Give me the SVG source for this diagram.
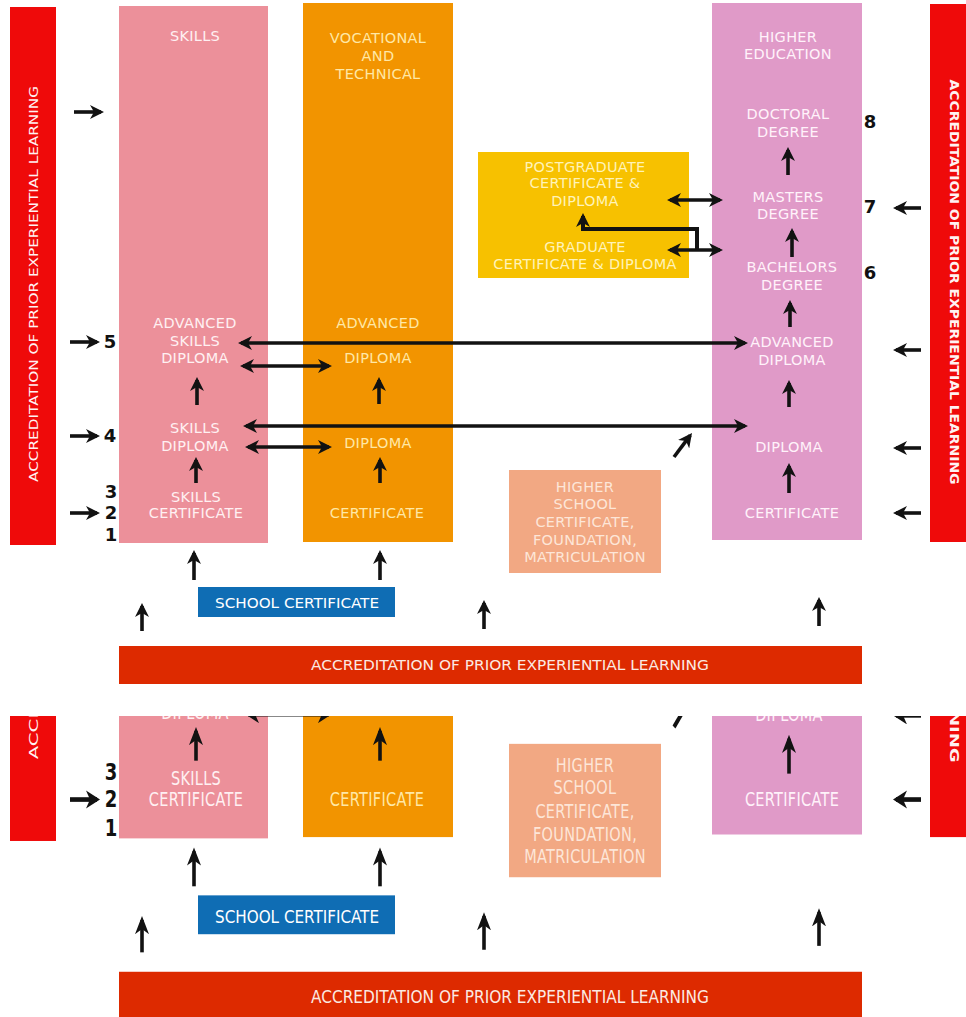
<svg xmlns="http://www.w3.org/2000/svg" width="966" height="1017" viewBox="0 0 966 1017">
<style>
.t{font-family:"DejaVu Sans","Verdana",sans-serif;font-size:14.5px;text-anchor:middle;letter-spacing:0.3px}
.tp{fill:#fff0f2}
.to{fill:#ffe8a6}
.tv{fill:#fff2fa}
.tg{fill:#fff3b8}
.tc{fill:#fde6d8}
.num{font-family:"DejaVu Sans",sans-serif;font-size:18px;font-weight:bold;fill:#111111;text-anchor:middle}
.ar{stroke:#121212;stroke-width:3.6;fill:none}
.side{font-family:"DejaVu Sans",sans-serif;font-size:13px;fill:#fff2f2;text-anchor:middle}
.bar{font-family:"DejaVu Sans Condensed","DejaVu Sans",sans-serif;font-size:13.5px;fill:#fbe9e2;text-anchor:middle}
</style>
<defs>
<marker id="ah" viewBox="0 0 14 14" refX="11" refY="7" markerWidth="14" markerHeight="14" markerUnits="userSpaceOnUse" orient="auto-start-reverse"><path d="M0,0 L14,7 L0,14 L4,7 z" fill="#121212"/></marker>
<clipPath id="clipB" clipPathUnits="userSpaceOnUse"><rect x="0" y="716" width="966" height="301"/></clipPath>
</defs>
<rect width="966" height="1017" fill="#ffffff"/>

<g id="top">
<g id="apl-left"><rect x="10" y="7" width="46" height="538" fill="#ef0a0a"/><text class="side" transform="translate(33,284) rotate(-90)" x="0" y="5" textLength="396" lengthAdjust="spacingAndGlyphs">ACCREDITATION OF PRIOR EXPERIENTIAL LEARNING</text></g>
<g id="apl-right"><rect x="930" y="4" width="36" height="538" fill="#ef0a0a"/><text class="side" font-weight="bold" transform="translate(955,282) rotate(90)" x="0" y="5" textLength="405" lengthAdjust="spacingAndGlyphs">ACCREDITATION OF PRIOR EXPERIENTIAL LEARNING</text></g>

<g id="skills"><rect x="119" y="6" width="149" height="537" fill="#ec909a"/>
<text class="t tp" x="195" y="41">SKILLS</text>
<text class="t tp" x="195" y="328">ADVANCED</text><text class="t tp" x="195" y="346">SKILLS</text><text class="t tp" x="195" y="363">DIPLOMA</text>
<text class="t tp" x="195" y="433">SKILLS</text><text class="t tp" x="195" y="451">DIPLOMA</text>
<text class="t tp" x="196" y="502">SKILLS</text><text class="t tp" x="196" y="518">CERTIFICATE</text></g>

<g id="vet"><rect x="303" y="3" width="150" height="539" fill="#f29400"/>
<text class="t to" x="378" y="43">VOCATIONAL</text><text class="t to" x="378" y="61">AND</text><text class="t to" x="378" y="79">TECHNICAL</text>
<text class="t to" x="378" y="328">ADVANCED</text><text class="t to" x="378" y="363">DIPLOMA</text>
<text class="t to" x="378" y="448">DIPLOMA</text>
<text class="t to" x="377" y="518">CERTIFICATE</text></g>

<g id="he"><rect x="712" y="3" width="150" height="537" fill="#e09ac8"/>
<text class="t tv" x="788" y="42">HIGHER</text><text class="t tv" x="788" y="59">EDUCATION</text>
<text class="t tv" x="788" y="119">DOCTORAL</text><text class="t tv" x="788" y="137">DEGREE</text>
<text class="t tv" x="788" y="202">MASTERS</text><text class="t tv" x="788" y="219">DEGREE</text>
<text class="t tv" x="792" y="272">BACHELORS</text><text class="t tv" x="792" y="290">DEGREE</text>
<text class="t tv" x="792" y="347">ADVANCED</text><text class="t tv" x="792" y="365">DIPLOMA</text>
<text class="t tv" x="789" y="452">DIPLOMA</text>
<text class="t tv" x="792" y="518">CERTIFICATE</text></g>

<g id="grad"><rect x="478" y="152" width="211" height="126" fill="#f7c100"/>
<text class="t tg" x="585" y="172">POSTGRADUATE</text><text class="t tg" x="585" y="188">CERTIFICATE &amp;</text><text class="t tg" x="585" y="206">DIPLOMA</text>
<text class="t tg" x="585" y="252">GRADUATE</text><text class="t tg" x="585" y="269">CERTIFICATE &amp; DIPLOMA</text></g>

<g id="hsc"><rect x="509" y="470" width="152" height="103" fill="#f2a883"/>
<text class="t tc" x="585" y="492">HIGHER</text><text class="t tc" x="585" y="509">SCHOOL</text><text class="t tc" x="585" y="527">CERTIFICATE,</text><text class="t tc" x="585" y="545">FOUNDATION,</text><text class="t tc" x="585" y="562">MATRICULATION</text></g>

<g id="school"><rect x="198" y="587" width="197" height="30" fill="#0f6db4"/><text class="bar" x="297" y="608" textLength="164" lengthAdjust="spacingAndGlyphs" style="fill:#ffffff">SCHOOL CERTIFICATE</text></g>

<g id="apl-bottom"><rect x="119" y="646" width="743" height="38" fill="#dd2a00"/><text class="bar" x="510" y="670" textLength="398" lengthAdjust="spacingAndGlyphs">ACCREDITATION OF PRIOR EXPERIENTIAL LEARNING</text></g>

<g id="levels">
<text class="num" x="870" y="128">8</text><text class="num" x="870" y="213">7</text><text class="num" x="870" y="279">6</text>
<text class="num" x="110" y="348">5</text><text class="num" x="110" y="442">4</text>
<text class="num" x="111" y="498">3</text><text class="num" x="111" y="519">2</text><text class="num" x="111" y="541">1</text>
</g>

<g id="connectors" class="ar" marker-end="url(#ah)">
<line x1="74" y1="112" x2="101" y2="112"/>
<line x1="70" y1="342" x2="97" y2="342"/>
<line x1="70" y1="436" x2="97" y2="436"/>
<line x1="70" y1="513" x2="97" y2="513"/>
<line x1="921" y1="208" x2="896" y2="208"/>
<line x1="921" y1="350" x2="896" y2="350"/>
<line x1="921" y1="448" x2="896" y2="448"/>
<line x1="921" y1="513" x2="896" y2="513"/>
<line x1="788" y1="175" x2="788" y2="150"/>
<line x1="792" y1="257" x2="792" y2="231"/>
<line x1="790" y1="327" x2="790" y2="303"/>
<line x1="789" y1="407" x2="789" y2="383"/>
<line x1="789" y1="493" x2="789" y2="466"/>
<line x1="197" y1="405" x2="197" y2="380"/>
<line x1="196" y1="483" x2="196" y2="460"/>
<line x1="379" y1="404" x2="379" y2="380"/>
<line x1="380" y1="483" x2="380" y2="460"/>
<line x1="194" y1="580" x2="194" y2="553"/>
<line x1="380" y1="580" x2="380" y2="553"/>
<line x1="142" y1="631" x2="142" y2="606"/>
<line x1="484" y1="629" x2="484" y2="603"/>
<line x1="819" y1="626" x2="819" y2="600"/>
<line x1="674" y1="457" x2="690.2" y2="435.4"/>
<line x1="241" y1="343" x2="745" y2="343" marker-start="url(#ah)"/>
<line x1="243" y1="366" x2="329" y2="366" marker-start="url(#ah)"/>
<line x1="246" y1="426" x2="745" y2="426" marker-start="url(#ah)"/>
<line x1="248" y1="447" x2="329" y2="447" marker-start="url(#ah)"/>
<line x1="670" y1="200" x2="720" y2="200" marker-start="url(#ah)"/>
<line x1="670" y1="250" x2="720" y2="250" marker-start="url(#ah)"/>
<path d="M697,250 V229 H583 V216" stroke-width="4"/>
</g>
</g>

<g id="bottom-detail" clip-path="url(#clipB)">
<g transform="translate(0,135.2) scale(1,1.295)">
<g id="b-apl-left"><rect x="10" y="7" width="46" height="538" fill="#ef0a0a"/><text class="side" transform="translate(33,284) rotate(-90)" x="0" y="5" textLength="396" lengthAdjust="spacingAndGlyphs">ACCREDITATION OF PRIOR EXPERIENTIAL LEARNING</text></g>
<g id="b-apl-right"><rect x="930" y="4" width="36" height="538" fill="#ef0a0a"/><text class="side" font-weight="bold" transform="translate(955,282) rotate(90)" x="0" y="5" textLength="405" lengthAdjust="spacingAndGlyphs">ACCREDITATION OF PRIOR EXPERIENTIAL LEARNING</text></g>
<g id="b-skills"><rect x="119" y="6" width="149" height="537" fill="#ec909a"/>
<text class="t tp" x="195" y="451">DIPLOMA</text>
<text class="t tp" x="196" y="502">SKILLS</text><text class="t tp" x="196" y="518">CERTIFICATE</text></g>
<g id="b-vet"><rect x="303" y="3" width="150" height="539" fill="#f29400"/>
<text class="t to" x="378" y="448">DIPLOMA</text>
<text class="t to" x="377" y="518">CERTIFICATE</text></g>
<g id="b-he"><rect x="712" y="3" width="150" height="537" fill="#e09ac8"/>
<text class="t tv" x="789" y="452">DIPLOMA</text>
<text class="t tv" x="792" y="518">CERTIFICATE</text></g>
<g id="b-hsc"><rect x="509" y="470" width="152" height="103" fill="#f2a883"/>
<text class="t tc" x="585" y="492">HIGHER</text><text class="t tc" x="585" y="509">SCHOOL</text><text class="t tc" x="585" y="527">CERTIFICATE,</text><text class="t tc" x="585" y="545">FOUNDATION,</text><text class="t tc" x="585" y="562">MATRICULATION</text></g>
<g id="b-school"><rect x="198" y="587" width="197" height="30" fill="#0f6db4"/><text class="bar" x="297" y="608" textLength="164" lengthAdjust="spacingAndGlyphs" style="fill:#ffffff">SCHOOL CERTIFICATE</text></g>
<g id="b-apl-bottom"><rect x="119" y="646" width="743" height="38" fill="#dd2a00"/><text class="bar" x="510" y="670" textLength="398" lengthAdjust="spacingAndGlyphs">ACCREDITATION OF PRIOR EXPERIENTIAL LEARNING</text></g>
<g id="b-levels"><text class="num" x="111" y="498">3</text><text class="num" x="111" y="519">2</text><text class="num" x="111" y="541">1</text></g>
<g id="b-connectors" class="ar" marker-end="url(#ah)">
<line x1="70" y1="513" x2="97" y2="513"/>
<line x1="921" y1="448" x2="896" y2="448"/>
<line x1="921" y1="513" x2="896" y2="513"/>
<line x1="789" y1="493" x2="789" y2="466"/>
<line x1="196" y1="483" x2="196" y2="460"/>
<line x1="380" y1="483" x2="380" y2="460"/>
<line x1="194" y1="580" x2="194" y2="553"/>
<line x1="380" y1="580" x2="380" y2="553"/>
<line x1="142" y1="631" x2="142" y2="606"/>
<line x1="484" y1="629" x2="484" y2="603"/>
<line x1="819" y1="626" x2="819" y2="600"/>
<line x1="674" y1="457" x2="690.2" y2="435.4"/>
<line x1="248" y1="447" x2="329" y2="447" marker-start="url(#ah)"/>
</g>
</g>
</g>
</svg>
